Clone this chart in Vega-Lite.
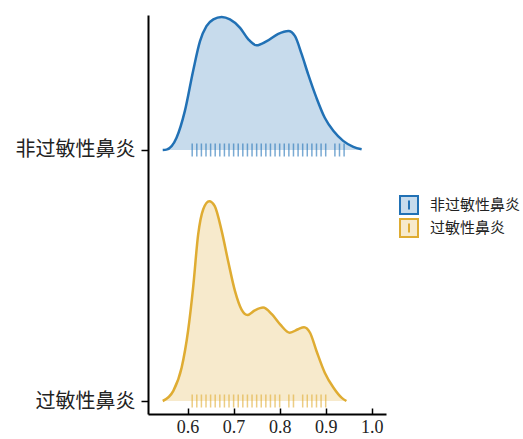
{
  "$schema": "https://vega.github.io/schema/vega-lite/v6.json",
  "width": 238,
  "height": 399,
  "padding": {"left": 15, "top": 11, "right": 5, "bottom": 0},
  "datasets": {
    "curves": [
      {"g": "非过敏性鼻炎", "x": 0.546, "d": 0},
      {"g": "非过敏性鼻炎", "x": 0.554, "d": 0.01},
      {"g": "非过敏性鼻炎", "x": 0.576, "d": 0.35},
      {"g": "非过敏性鼻炎", "x": 0.594, "d": 1.11},
      {"g": "非过敏性鼻炎", "x": 0.612, "d": 2.26},
      {"g": "非过敏性鼻炎", "x": 0.627, "d": 3.11},
      {"g": "非过敏性鼻炎", "x": 0.641, "d": 3.54},
      {"g": "非过敏性鼻炎", "x": 0.656, "d": 3.73},
      {"g": "非过敏性鼻炎", "x": 0.674, "d": 3.8},
      {"g": "非过敏性鼻炎", "x": 0.692, "d": 3.73},
      {"g": "非过敏性鼻炎", "x": 0.714, "d": 3.49},
      {"g": "非过敏性鼻炎", "x": 0.732, "d": 3.16},
      {"g": "非过敏性鼻炎", "x": 0.75, "d": 2.99},
      {"g": "非过敏性鼻炎", "x": 0.772, "d": 3.11},
      {"g": "非过敏性鼻炎", "x": 0.797, "d": 3.32},
      {"g": "非过敏性鼻炎", "x": 0.819, "d": 3.4},
      {"g": "非过敏性鼻炎", "x": 0.833, "d": 3.26},
      {"g": "非过敏性鼻炎", "x": 0.848, "d": 2.73},
      {"g": "非过敏性鼻炎", "x": 0.862, "d": 2.16},
      {"g": "非过敏性鼻炎", "x": 0.88, "d": 1.49},
      {"g": "非过敏性鼻炎", "x": 0.898, "d": 0.92},
      {"g": "非过敏性鼻炎", "x": 0.917, "d": 0.54},
      {"g": "非过敏性鼻炎", "x": 0.938, "d": 0.26},
      {"g": "非过敏性鼻炎", "x": 0.96, "d": 0.09},
      {"g": "非过敏性鼻炎", "x": 0.978, "d": 0.02},
      {"g": "过敏性鼻炎", "x": 0.546, "d": 0},
      {"g": "过敏性鼻炎", "x": 0.569, "d": 0.29},
      {"g": "过敏性鼻炎", "x": 0.587, "d": 0.95},
      {"g": "过敏性鼻炎", "x": 0.601, "d": 2.0},
      {"g": "过敏性鼻炎", "x": 0.612, "d": 3.24},
      {"g": "过敏性鼻炎", "x": 0.623, "d": 4.76},
      {"g": "过敏性鼻炎", "x": 0.634, "d": 5.48},
      {"g": "过敏性鼻炎", "x": 0.647, "d": 5.71},
      {"g": "过敏性鼻炎", "x": 0.659, "d": 5.57},
      {"g": "过敏性鼻炎", "x": 0.674, "d": 4.86},
      {"g": "过敏性鼻炎", "x": 0.688, "d": 4.0},
      {"g": "过敏性鼻炎", "x": 0.703, "d": 3.14},
      {"g": "过敏性鼻炎", "x": 0.717, "d": 2.62},
      {"g": "过敏性鼻炎", "x": 0.73, "d": 2.46},
      {"g": "过敏性鼻炎", "x": 0.746, "d": 2.59},
      {"g": "过敏性鼻炎", "x": 0.764, "d": 2.67},
      {"g": "过敏性鼻炎", "x": 0.783, "d": 2.48},
      {"g": "过敏性鼻炎", "x": 0.801, "d": 2.19},
      {"g": "过敏性鼻炎", "x": 0.822, "d": 1.95},
      {"g": "过敏性鼻炎", "x": 0.84, "d": 2.05},
      {"g": "过敏性鼻炎", "x": 0.853, "d": 2.11},
      {"g": "过敏性鼻炎", "x": 0.866, "d": 1.95},
      {"g": "过敏性鼻炎", "x": 0.88, "d": 1.43},
      {"g": "过敏性鼻炎", "x": 0.898, "d": 0.81},
      {"g": "过敏性鼻炎", "x": 0.917, "d": 0.38},
      {"g": "过敏性鼻炎", "x": 0.935, "d": 0.09},
      {"g": "过敏性鼻炎", "x": 0.945, "d": 0}
    ],
    "rug": [
      {"g": "非过敏性鼻炎", "x": 0.61}, {"g": "非过敏性鼻炎", "x": 0.62}, {"g": "非过敏性鼻炎", "x": 0.63},
      {"g": "非过敏性鼻炎", "x": 0.64}, {"g": "非过敏性鼻炎", "x": 0.65}, {"g": "非过敏性鼻炎", "x": 0.66},
      {"g": "非过敏性鼻炎", "x": 0.67}, {"g": "非过敏性鼻炎", "x": 0.68}, {"g": "非过敏性鼻炎", "x": 0.69},
      {"g": "非过敏性鼻炎", "x": 0.70}, {"g": "非过敏性鼻炎", "x": 0.71}, {"g": "非过敏性鼻炎", "x": 0.72},
      {"g": "非过敏性鼻炎", "x": 0.73}, {"g": "非过敏性鼻炎", "x": 0.74}, {"g": "非过敏性鼻炎", "x": 0.75},
      {"g": "非过敏性鼻炎", "x": 0.76}, {"g": "非过敏性鼻炎", "x": 0.77}, {"g": "非过敏性鼻炎", "x": 0.78},
      {"g": "非过敏性鼻炎", "x": 0.79}, {"g": "非过敏性鼻炎", "x": 0.80}, {"g": "非过敏性鼻炎", "x": 0.81},
      {"g": "非过敏性鼻炎", "x": 0.82}, {"g": "非过敏性鼻炎", "x": 0.83}, {"g": "非过敏性鼻炎", "x": 0.84},
      {"g": "非过敏性鼻炎", "x": 0.85}, {"g": "非过敏性鼻炎", "x": 0.86}, {"g": "非过敏性鼻炎", "x": 0.87},
      {"g": "非过敏性鼻炎", "x": 0.88}, {"g": "非过敏性鼻炎", "x": 0.89}, {"g": "非过敏性鼻炎", "x": 0.90},
      {"g": "非过敏性鼻炎", "x": 0.92}, {"g": "非过敏性鼻炎", "x": 0.93}, {"g": "非过敏性鼻炎", "x": 0.94},
      {"g": "过敏性鼻炎", "x": 0.61}, {"g": "过敏性鼻炎", "x": 0.62}, {"g": "过敏性鼻炎", "x": 0.63},
      {"g": "过敏性鼻炎", "x": 0.64}, {"g": "过敏性鼻炎", "x": 0.65}, {"g": "过敏性鼻炎", "x": 0.66},
      {"g": "过敏性鼻炎", "x": 0.67}, {"g": "过敏性鼻炎", "x": 0.68}, {"g": "过敏性鼻炎", "x": 0.69},
      {"g": "过敏性鼻炎", "x": 0.70}, {"g": "过敏性鼻炎", "x": 0.71}, {"g": "过敏性鼻炎", "x": 0.72},
      {"g": "过敏性鼻炎", "x": 0.73}, {"g": "过敏性鼻炎", "x": 0.74}, {"g": "过敏性鼻炎", "x": 0.75},
      {"g": "过敏性鼻炎", "x": 0.76}, {"g": "过敏性鼻炎", "x": 0.77}, {"g": "过敏性鼻炎", "x": 0.78},
      {"g": "过敏性鼻炎", "x": 0.79}, {"g": "过敏性鼻炎", "x": 0.80}, {"g": "过敏性鼻炎", "x": 0.82},
      {"g": "过敏性鼻炎", "x": 0.83}, {"g": "过敏性鼻炎", "x": 0.85}, {"g": "过敏性鼻炎", "x": 0.86},
      {"g": "过敏性鼻炎", "x": 0.87}, {"g": "过敏性鼻炎", "x": 0.88}, {"g": "过敏性鼻炎", "x": 0.89},
      {"g": "过敏性鼻炎", "x": 0.90}
    ]
  },
  "layer": [
    {
      "layer": [
        {
          "data": {"name": "curves"},
          "transform": [{"filter": "datum.g === '非过敏性鼻炎'"}],
          "mark": {"type": "area", "fillOpacity": 0.25, "interpolate": "monotone", "line": {"strokeWidth": 2.5}},
          "encoding": {
            "x": {"field": "x", "type": "quantitative", "scale": {"domain": [0.514, 1.031], "nice": false, "zero": false},
                  "axis": {"values": [0.6, 0.7, 0.8, 0.9, 1.0], "format": ".1f", "title": null, "grid": false, "tickSize": -6, "labelPadding": 10}},
            "y": {"field": "d", "type": "quantitative", "scale": {"domain": [-7.543, 3.857], "nice": false, "zero": false},
                  "axis": {"orient": "left", "values": [0], "labelExpr": "'非过敏性鼻炎'", "title": null, "grid": false, "domain": true}},
            "y2": {"datum": 0},
            "color": {"field": "g", "type": "nominal",
                      "scale": {"domain": ["非过敏性鼻炎", "过敏性鼻炎"], "range": ["#2171b5", "#dfac32"]},
                      "legend": {"orient": "none", "legendX": 251, "legendY": 180, "title": null,
                                 "encode": {"symbols": {"update": {"fillOpacity": {"value": 0.25}, "stroke": {"scale": "color", "field": "value"}, "strokeWidth": {"value": 2}, "shape": {"value": "M-1,-1H1V1H-1Z M0,-0.5V0.5"}}}}}}
          }
        },
        {
          "data": {"name": "rug"},
          "transform": [{"filter": "datum.g === '非过敏性鼻炎'"}],
          "mark": {"type": "tick", "orient": "vertical", "size": 13, "thickness": 1.5, "opacity": 0.6, "color": "#2171b5"},
          "encoding": {
            "x": {"field": "x", "type": "quantitative"},
            "y": {"datum": 0}
          }
        }
      ]
    },
    {
      "layer": [
        {
          "data": {"name": "curves"},
          "transform": [{"filter": "datum.g === '过敏性鼻炎'"}],
          "mark": {"type": "area", "fillOpacity": 0.25, "interpolate": "monotone", "line": {"strokeWidth": 2.5}},
          "encoding": {
            "x": {"field": "x", "type": "quantitative"},
            "y": {"field": "d", "type": "quantitative", "scale": {"domain": [-0.3714, 11.0286], "nice": false, "zero": false},
                  "axis": {"orient": "left", "values": [0], "labelExpr": "'过敏性鼻炎'", "title": null, "grid": false, "domain": false}},
            "y2": {"datum": 0},
            "color": {"field": "g", "type": "nominal",
                      "scale": {"domain": ["非过敏性鼻炎", "过敏性鼻炎"], "range": ["#2171b5", "#dfac32"]},
                      "legend": {"orient": "none", "legendX": 251, "legendY": 180, "title": null,
                                 "encode": {"symbols": {"update": {"fillOpacity": {"value": 0.25}, "stroke": {"scale": "color", "field": "value"}, "strokeWidth": {"value": 2}, "shape": {"value": "M-1,-1H1V1H-1Z M0,-0.5V0.5"}}}}}}
          }
        },
        {
          "data": {"name": "rug"},
          "transform": [{"filter": "datum.g === '过敏性鼻炎'"}],
          "mark": {"type": "tick", "orient": "vertical", "size": 13, "thickness": 1.5, "opacity": 0.6, "color": "#dfac32"},
          "encoding": {
            "x": {"field": "x", "type": "quantitative"},
            "y": {"datum": 0}
          }
        }
      ]
    }
  ],
  "resolve": {"scale": {"y": "independent"}, "axis": {"y": "independent"}},
  "config": {
    "view": {"stroke": null},
    "axis": {"domainColor": "#000", "domainWidth": 2, "tickColor": "#000", "tickWidth": 1.5, "labelColor": "#222"},
    "axisX": {"labelFont": "Liberation Serif", "labelFontSize": 18},
    "axisY": {"labelFont": "Noto Sans CJK SC", "labelFontSize": 20, "tickSize": 7, "labelPadding": 6},
    "legend": {"labelFont": "Noto Sans CJK SC", "labelFontSize": 15, "labelColor": "#222", "symbolSize": 324, "symbolStrokeWidth": 2, "rowPadding": -3, "labelOffset": 11, "padding": 0}
  }
}
